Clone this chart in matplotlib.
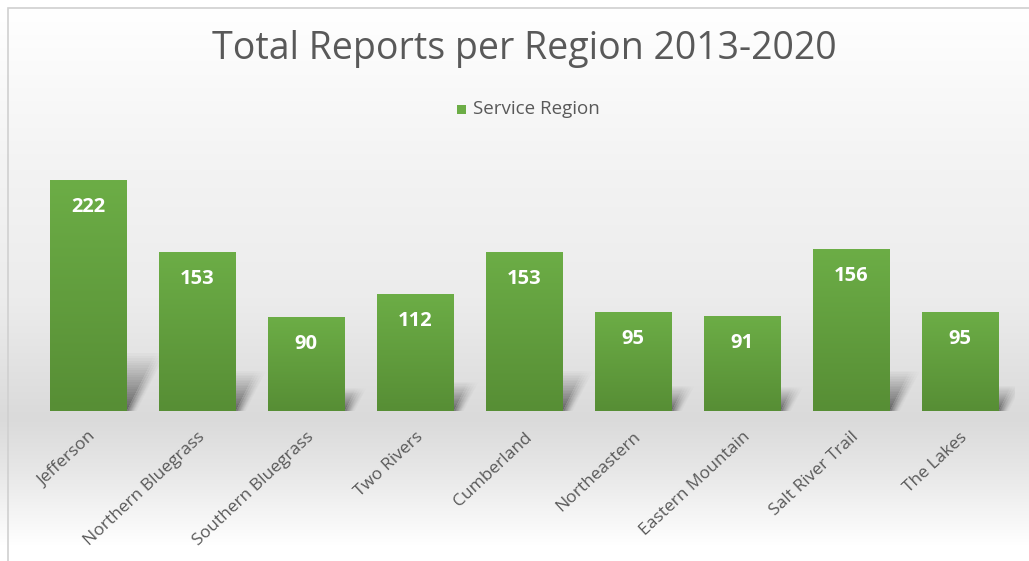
import numpy as np
import matplotlib
matplotlib.use("Agg")
import matplotlib.pyplot as plt
from matplotlib.patches import Polygon, Rectangle
from matplotlib.colors import LinearSegmentedColormap

plt.rcParams["font.family"] = ["Open Sans", "DejaVu Sans"]

# === DATA ===
regions = ["Jefferson", "Northern Bluegrass", "Southern Bluegrass", "Two Rivers",
           "Cumberland", "Northeastern", "Eastern Mountain", "Salt River Trail", "The Lakes"]
reports = [222, 153, 90, 112, 153, 95, 91, 156, 95]
series_name = "Service Region"
title = "Total Reports per Region 2013-2020"

TEXT_GRAY = "#595959"
GREEN_TOP = "#6cad46"
GREEN_BOT = "#578e35"
W, H = 1029, 561

fig = plt.figure(figsize=(W / 100, H / 100), dpi=100)

# background gradient (white -> light gray near the baseline -> white)
bg = fig.add_axes([0, 0, 1, 1], zorder=-10)
rows = np.arange(H)
stops_y = [0, 8, 160, 300, 418, 470, 545, 561]
stops_v = [1.0, 1.0, 0.955, 0.925, 0.855, 0.905, 1.0, 1.0]
shade = np.interp(rows, stops_y, stops_v)
bg_img = np.repeat(np.repeat(shade[:, None, None], 3, axis=2), 4, axis=1)
bg.imshow(bg_img, aspect="auto", extent=[0, 1, 0, 1], interpolation="nearest")
bg.set_xlim(0, 1)
bg.set_ylim(0, 1)
bg.set_axis_off()
# chart border (top and left edge visible)
fig.add_artist(Rectangle((8 / W, -0.01), 1.0, 1 - 8 / H + 0.01, transform=fig.transFigure,
                         fill=False, edgecolor="#d0d0d0", linewidth=1.2))

ax = fig.add_axes([33.5 / W, (H - 411) / H, 981 / W, 251 / H])
ax.set_facecolor("none")

x = np.arange(len(regions))
bw = 0.706
green_cmap = LinearSegmentedColormap.from_list("g", [GREEN_BOT, GREEN_TOP])
grad = np.linspace(0, 1, 100)[:, None]

for xi, h in zip(x, reports):
    xl, xr = xi - bw / 2, xi + bw / 2
    # soft perspective shadow behind the bar
    hs = 0.25 * h
    dx = 0.5 * hs * 1.036 / 109
    for k in range(24):
        f = (k + 1) / 24
        for off in (0.0, 0.025, 0.05, 0.075, 0.1):
            ax.add_patch(Polygon([(xl, 0), (xr + off * (1 - 0.5 * f), 0),
                                  (xr + off + dx * f, hs * f), (xl + dx * f, hs * f)],
                                 closed=True, facecolor="black", edgecolor="none",
                                 alpha=0.0028, zorder=1))
    ax.imshow(grad, cmap=green_cmap, origin="lower", aspect="auto",
              extent=[xl, xr, 0, h], zorder=3)
    ax.annotate(f"{h}", (xi, h), xytext=(0, -19), textcoords="offset points",
                ha="center", va="center", color="white", fontsize=14.5,
                fontweight="bold", zorder=4)

ax.set_xlim(-0.5, len(regions) - 0.5)
ax.set_ylim(0, 242)
ax.set_yticks([])
ax.set_xticks(x)
ax.set_xticklabels(regions, rotation=43, ha="right", rotation_mode="anchor",
                   fontsize=12.5, color=TEXT_GRAY)
ax.tick_params(axis="x", length=0, pad=13)
for s in ax.spines.values():
    s.set_visible(False)

fig.text(524 / W, 1 - 49 / H, title, ha="center", va="center",
         fontsize=27, color=TEXT_GRAY)
# legend
fig.add_artist(Rectangle((457 / W, 1 - 114 / H), 9 / W, 9 / H, transform=fig.transFigure,
                         facecolor=GREEN_TOP, edgecolor="none"))
fig.text(473 / W, 1 - 109 / H, series_name, ha="left", va="center",
         fontsize=13.5, color=TEXT_GRAY)

fig.savefig("out.png", dpi=100)
